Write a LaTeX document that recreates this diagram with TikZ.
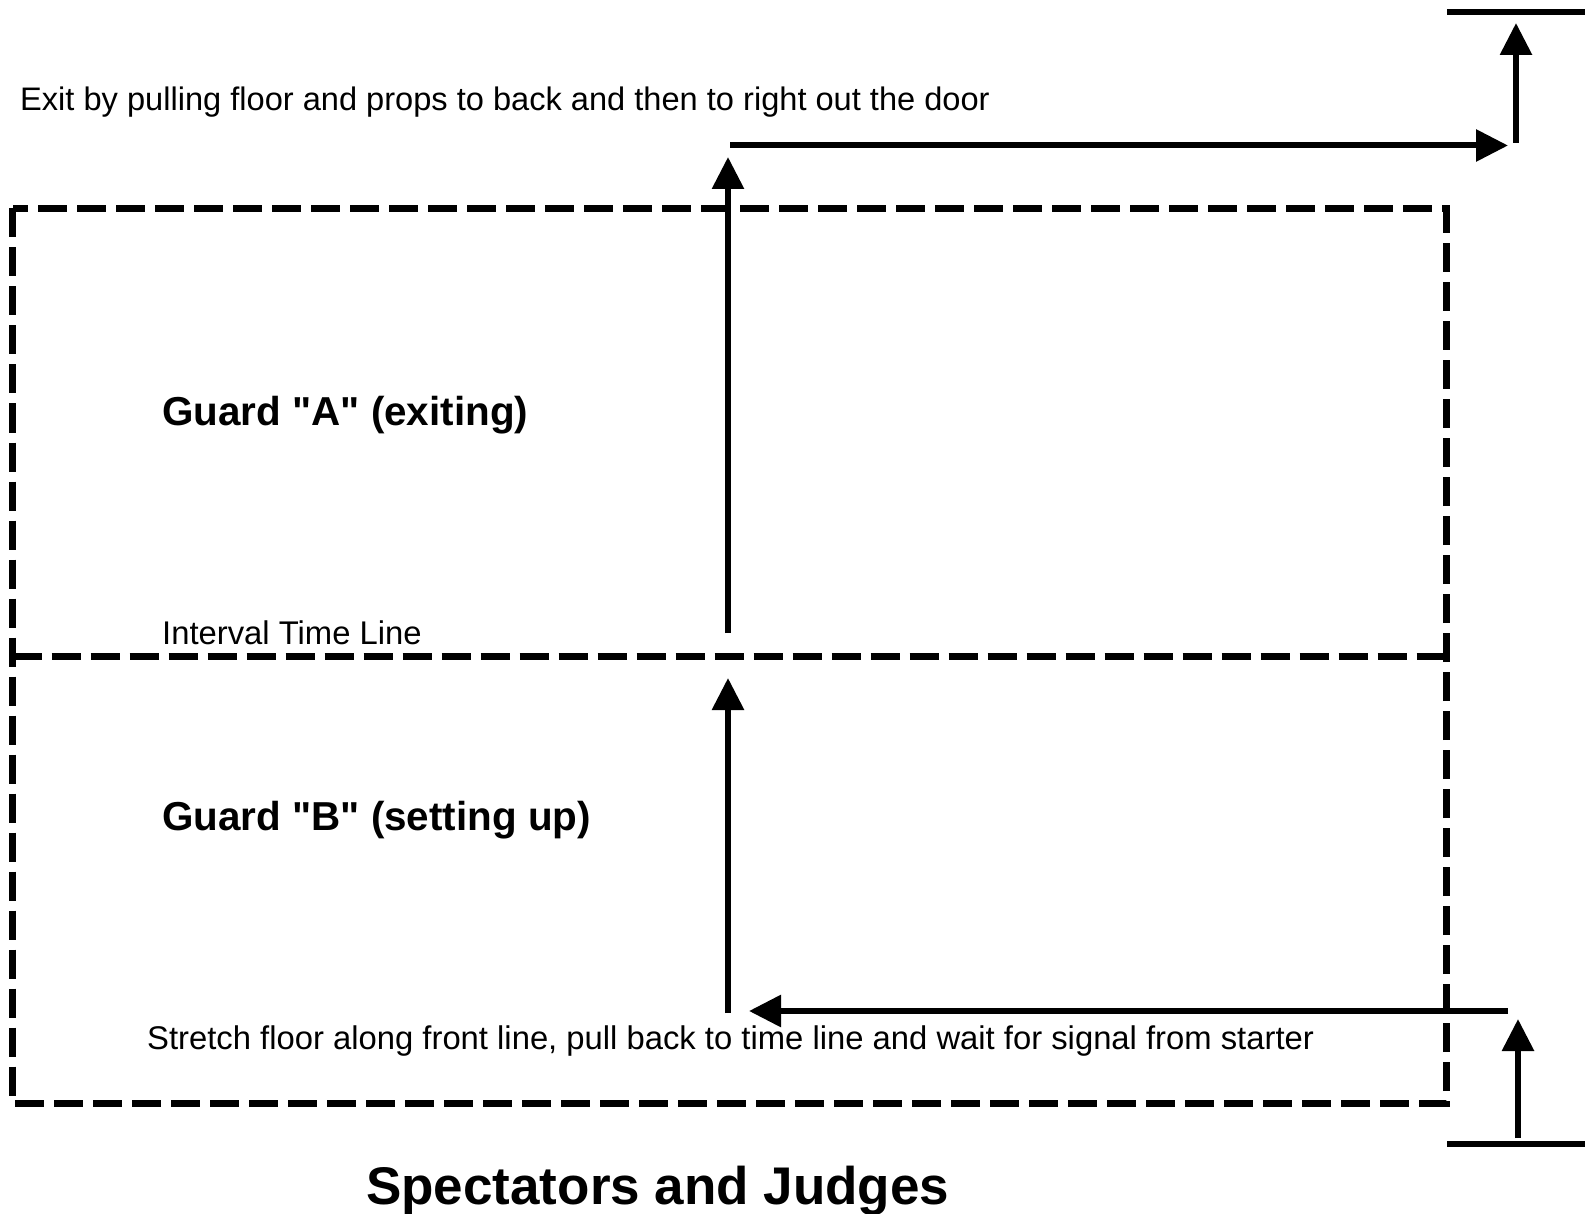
\documentclass[tikz,border=0pt]{standalone}
\usepackage{fontspec}
\setmainfont{Liberation Sans}[Ligatures=TeXOff]
\usetikzlibrary{arrows.meta}
\begin{document}
\begin{tikzpicture}[x=1pt,y=-1pt,
  zone/.style={line width=7pt,dash pattern=on 29pt off 10pt},
  move/.style={line width=6pt,-{Triangle[length=32pt,width=31pt]}},
  wall/.style={line width=6pt},
  small/.style={inner sep=0pt,anchor=base west,font=\fontsize{32.8}{39}\selectfont},
  guard/.style={inner sep=0pt,anchor=base west,font=\fontsize{40.4}{48}\selectfont\bfseries},
  title/.style={inner sep=0pt,anchor=base west,font=\fontsize{53}{64}\selectfont\bfseries}]
\useasboundingbox (0,0) rectangle (1585,1214);
% floor zones
\draw[zone] (12.5,208.5) rectangle (1446,1103);
\coordinate (midL) at (12.5,656.5);
\coordinate (midR) at (1446,656.5);
\draw[zone] (midL) -- (midR);
% walls / door
\coordinate (doorTopL) at (1447,12.5);
\coordinate (doorTopR) at (1585,12.5);
\draw[wall] (doorTopL) -- (doorTopR);
\coordinate (doorBotL) at (1447,1144);
\coordinate (doorBotR) at (1585,1144);
\draw[wall] (doorBotL) -- (doorBotR);
% exit path
\coordinate (exitA) at (728,633);
\coordinate (exitB) at (728,157);
\coordinate (exitC) at (730,145.5);
\coordinate (exitD) at (1508,145.5);
\coordinate (exitE) at (1516,143);
\coordinate (exitF) at (1516,23);
\draw[move] (exitA) -- (exitB);
\draw[move] (exitC) -- (exitD);
\draw[move] (exitE) -- (exitF);
% entry path
\coordinate (entA) at (1518,1138);
\coordinate (entB) at (1518,1019);
\coordinate (entC) at (1508,1011);
\coordinate (entD) at (749,1011);
\coordinate (entE) at (728,1013);
\coordinate (entF) at (728,678);
\draw[move] (entA) -- (entB);
\draw[move] (entC) -- (entD);
\draw[move] (entE) -- (entF);
% texts
\node[small,font=\fontsize{32.6}{39}\selectfont] (exitText) at (20,111) {Exit by pulling floor and props to back and then to right out the door};
\node[guard] (guardA) at (162,425.5) {Guard "A" (exiting)};
\node[small] (interval) at (162,644) {Interval Time Line};
\node[guard] (guardB) at (162,830) {Guard "B" (setting up)};
\node[small] (stretch) at (147,1049) {Stretch floor along front line, pull back to time line and wait for signal from starter};
\node[title] (spect) at (366,1204) {Spectators and Judges};
\end{tikzpicture}
\end{document}
